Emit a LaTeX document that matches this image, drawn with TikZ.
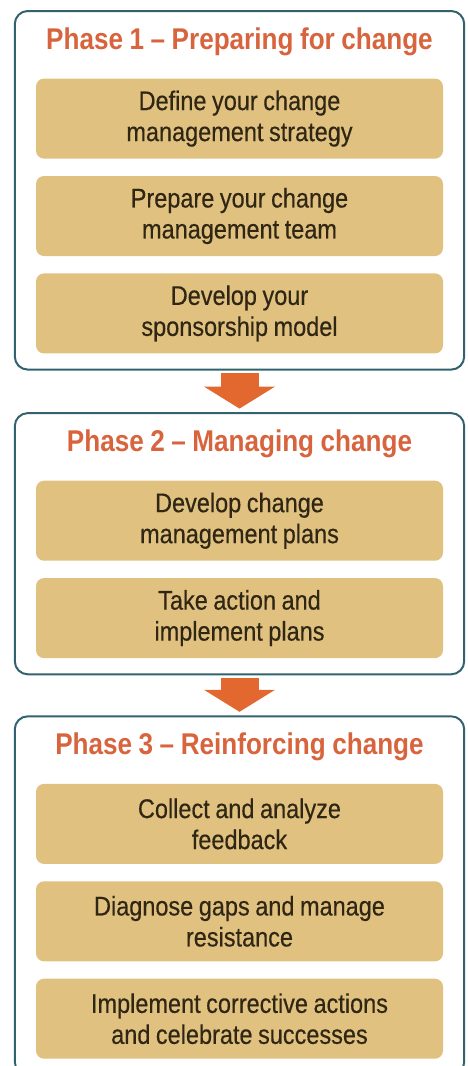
\documentclass[tikz,border=0pt]{standalone}
\usepackage{fontspec}
\usepackage{tikz}
\usetikzlibrary{arrows.meta, positioning, fit, backgrounds}
\newfontfamily\phaseFont{Liberation Sans}[FakeStretch=0.87, WordSpace=0.9]
\newfontfamily\stepFont{Liberation Sans}[FakeStretch=0.87, FakeBold=0.35, WordSpace=0.85]
\definecolor{frameLine}{RGB}{50,98,110}
\definecolor{titleInk}{RGB}{216,100,62}
\definecolor{stepFill}{RGB}{224,193,128}
\definecolor{stepInk}{RGB}{48,38,20}
\definecolor{arrowFill}{RGB}{226,104,48}
\tikzset{
  phaseTitle/.style={
    anchor=north,
    inner sep=0pt,
    text height=22pt,
    text depth=0pt,
    text=titleInk,
    font=\phaseFont\bfseries\fontsize{30}{36}\selectfont
  },
  stepNode/.style={
    fill=stepFill,
    rounded corners=8pt,
    minimum width=407pt,
    minimum height=80pt,
    inner sep=0pt,
    align=center,
    text=stepInk,
    font=\stepFont\fontsize{27}{31}\selectfont
  },
  phaseFrame/.style={
    draw=frameLine,
    line width=2pt,
    rounded corners=13pt,
    fill=white,
    inner xsep=21pt,
    inner ysep=16pt,
    outer sep=0pt
  },
  phaseArrow/.style={-{Triangle[length=22pt,width=70pt]}, line width=38pt, draw=arrowFill, shorten <=3.5pt, shorten >=4.5pt}
}

\begin{document}
\begin{tikzpicture}[x=1pt, y=1pt, node distance=17pt]
  \useasboundingbox (0,0) rectangle (468,-1066);

  % phase 1
  \node[phaseTitle] (titleOne) at (239.5,-27) {Phase 1 – Preparing for change};
  \node[stepNode, below=29pt of titleOne] (stepOneA) {Define your change\\management strategy};
  \node[stepNode, below=of stepOneA] (stepOneB) {Prepare your change\\management team};
  \node[stepNode, below=of stepOneB] (stepOneC) {Develop your\\sponsorship model};
  \begin{scope}[on background layer]
    \node[phaseFrame, fit=(titleOne)(stepOneA)(stepOneC)] (frameOne) {};
  \end{scope}

  % phase 2
  \node[phaseTitle, below=59.5pt of frameOne] (titleTwo) {Phase 2 – Managing change};
  \node[stepNode, below=29pt of titleTwo] (stepTwoA) {Develop change\\management plans};
  \node[stepNode, below=of stepTwoA] (stepTwoB) {Take action and\\implement plans};
  \begin{scope}[on background layer]
    \node[phaseFrame, fit=(titleTwo)(stepTwoA)(stepTwoB)] (frameTwo) {};
  \end{scope}

  % phase 3
  \node[phaseTitle, below=58pt of frameTwo] (titleThree) {Phase 3 – Reinforcing change};
  \node[stepNode, below=29pt of titleThree] (stepThreeA) {Collect and analyze\\feedback};
  \node[stepNode, below=of stepThreeA] (stepThreeB) {Diagnose gaps and manage\\resistance};
  \node[stepNode, below=of stepThreeB] (stepThreeC) {Implement corrective actions\\and celebrate successes};
  \begin{scope}[on background layer]
    \node[phaseFrame, fit=(titleThree)(stepThreeA)(stepThreeC)] (frameThree) {};
  \end{scope}

  \draw[phaseArrow] (frameOne) -- (frameTwo);
  \draw[phaseArrow] (frameTwo) -- (frameThree);
\end{tikzpicture}
\end{document}
